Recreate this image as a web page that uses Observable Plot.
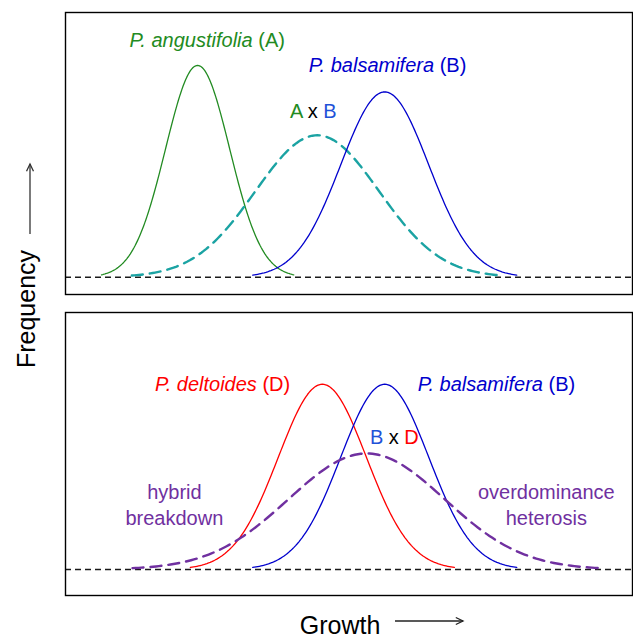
<!DOCTYPE html>
<html>
<head>
<meta charset="utf-8">
<script src="https://cdn.jsdelivr.net/npm/d3@7"></script>
<script src="https://cdn.jsdelivr.net/npm/@observablehq/plot@0.6"></script>
<style>
  html, body { margin: 0; padding: 0; background: #fff; }
  #chart { position: relative; width: 633px; height: 638px; overflow: hidden; font-family: "Liberation Sans", Arial, sans-serif; }
  #chart svg { position: absolute; left: 0; }
  text { white-space: pre; }
</style>
</head>
<body>
<div id="chart"></div>
<script>
// ---- Data ----
const xDomain = [0, 10];                 // growth (arbitrary units)
const topYDomain = [-0.082, 1.25];       // frequency (relative)
const bottomYDomain = [-0.123, 1.214];

// Top panel: P. angustifolia (A), A x B hybrid, P. balsamifera (B)
const topCurveNames = ["A", "AxB", "B"];
const topCurveMeans = [2.33, 4.44, 5.63];
const topCurveSDs   = [0.565, 1.09, 0.776];
const topCurvePeaks = [1.0, 0.67, 0.875];

// Bottom panel: P. deltoides (D), P. balsamifera (B), B x D hybrid
const bottomCurveNames = ["D", "B", "BxD"];
const bottomCurveMeans = [4.53, 5.63, 5.31];
const bottomCurveSDs   = [0.776, 0.776, 1.376];
const bottomCurvePeaks = [0.875, 0.875, 0.548];

// Labels
const topLabelText = ["P. angustifolia (A)", "P. balsamifera (B)", "A x B"];
const topLabelX = [2.50, 5.68, 4.37];
const topLabelY = [1.117, 1.0, 0.782];

const bottomLabelText = ["P. deltoides (D)", "P. balsamifera (B)", "B x D"];
const bottomLabelX = [2.77, 7.60, 5.80];
const bottomLabelY = [0.874, 0.874, 0.623];

const noteText = ["hybrid\nbreakdown", "overdominance\nheterosis"];
const noteX = [1.92, 8.48];
const noteY = [0.312, 0.312];

const xTitle = "Growth";
const yTitle = "Frequency";

// ---- Styles ----
const GREEN = "#228b22", BLUE = "#0000cd", TEAL = "#1ba3a3", RED = "#ff0000", PURPLE = "#7030a0", LBLUE = "#1f52d8";
const curveStyle = {
  A:   {stroke: GREEN,  dashed: false},
  AxB: {stroke: TEAL,   dashed: true},
  B:   {stroke: BLUE,   dashed: false},
  D:   {stroke: RED,    dashed: false},
  BxD: {stroke: PURPLE, dashed: true}
};
const labelParts = {
  "P. angustifolia (A)": [["P. angustifolia", GREEN, true], [" (A)", GREEN, false]],
  "P. balsamifera (B)":  [["P. balsamifera", BLUE, true], [" (B)", BLUE, false]],
  "P. deltoides (D)":    [["P. deltoides", RED, true], [" (D)", RED, false]],
  "A x B": [["A", GREEN, false], [" x ", "#000", false], ["B", LBLUE, false]],
  "B x D": [["B", LBLUE, false], [" x ", "#000", false], ["D", RED, false]]
};
const FONT = "Liberation Sans, Arial, Helvetica, sans-serif";

// Normal curve sampled over mean ± 3 sd from the read parameters
function curvePoints(name, mu, sd, peak) {
  const n = 160, pts = [];
  for (let i = 0; i <= n; i++) {
    const x = mu - 3 * sd + (6 * sd * i) / n;
    const z = (x - mu) / sd;
    pts.push({name, x, y: peak * Math.exp(-0.5 * z * z)});
  }
  return pts;
}

function curveMarks(names, means, sds, peaks) {
  return names.map((nm, i) => {
    const s = curveStyle[nm];
    return Plot.line(curvePoints(nm, means[i], sds[i], peaks[i]), {
      x: "x", y: "y", stroke: s.stroke,
      strokeWidth: s.dashed ? 2.4 : 1.3,
      strokeDasharray: s.dashed ? "11,7" : null,
      curve: "linear"
    });
  });
}

function labelsTable(text, xs, ys) {
  return text.map((t, i) => ({text: t, x: xs[i], y: ys[i]}));
}

function styleLabels(svg) {
  d3.select(svg).selectAll("text").each(function () {
    const parts = labelParts[this.textContent];
    if (!parts) return;
    const sel = d3.select(this);
    sel.text(null);
    parts.forEach(([s, c, it]) => sel.append("tspan")
      .attr("fill", c).attr("font-style", it ? "italic" : "normal").text(s));
  });
}

const baselineStyle = {stroke: "#1a1a1a", strokeWidth: 1.5, strokeDasharray: "6,4"};

// ---- Top panel ----
const topPlot = Plot.plot({
  width: 633, height: 303,
  marginTop: 12, marginRight: 1, marginBottom: 9, marginLeft: 65,
  x: {domain: xDomain, axis: null},
  y: {domain: topYDomain, axis: null},
  marks: [
    Plot.ruleY([0], baselineStyle),
    ...curveMarks(topCurveNames, topCurveMeans, topCurveSDs, topCurvePeaks),
    Plot.text(labelsTable(topLabelText, topLabelX, topLabelY), {
      x: "x", y: "y", text: "text", fill: "black", fontSize: 20, fontFamily: FONT
    }),
    Plot.frame({stroke: "black", strokeWidth: 1.4})
  ]
});
styleLabels(topPlot);

// ---- Bottom panel ----
const bottomPlot = Plot.plot({
  width: 633, height: 335,
  marginTop: 9, marginRight: 1, marginBottom: 43, marginLeft: 65,
  x: {domain: xDomain, axis: null},
  y: {domain: bottomYDomain, axis: null},
  marks: [
    Plot.ruleY([0], baselineStyle),
    ...curveMarks(bottomCurveNames, bottomCurveMeans, bottomCurveSDs, bottomCurvePeaks),
    Plot.text(labelsTable(bottomLabelText, bottomLabelX, bottomLabelY), {
      x: "x", y: "y", text: "text", fill: "black", fontSize: 20, fontFamily: FONT
    }),
    Plot.text(labelsTable(noteText, noteX, noteY), {
      x: "x", y: "y", text: "text", fill: PURPLE, fontSize: 20, fontFamily: FONT, lineHeight: 1.3
    }),
    Plot.text([xTitle], {
      frameAnchor: "bottom", lineAnchor: "middle", dx: -9, dy: 30,
      fill: "black", fontSize: 25, fontFamily: FONT
    }),
    Plot.frame({stroke: "black", strokeWidth: 1.4})
  ]
});
styleLabels(bottomPlot);

const chart = document.getElementById("chart");
topPlot.style.top = "0px";
bottomPlot.style.top = "303px";
chart.appendChild(topPlot);
chart.appendChild(bottomPlot);

// ---- Overlay: y title and axis arrows ----
const ov = d3.select(chart).append("svg")
  .attr("width", 633).attr("height", 638)
  .style("top", "0px").style("pointer-events", "none");

ov.append("text")
  .attr("transform", "translate(35,309) rotate(-90)")
  .attr("text-anchor", "middle")
  .attr("font-family", FONT).attr("font-size", 25).attr("fill", "black")
  .text(yTitle);

function arrow(x1, y1, x2, y2, color) {
  const g = ov.append("g").attr("stroke", color).attr("stroke-width", 1.3).attr("fill", "none");
  g.append("line").attr("x1", x1).attr("y1", y1).attr("x2", x2).attr("y2", y2);
  const ang = Math.atan2(y2 - y1, x2 - x1), L = 8, a = Math.PI / 7;
  g.append("path").attr("d",
    `M${x2 - L * Math.cos(ang - a)},${y2 - L * Math.sin(ang - a)}L${x2},${y2}L${x2 - L * Math.cos(ang + a)},${y2 - L * Math.sin(ang + a)}`);
}
arrow(30, 234, 30, 164, "#333");
arrow(395, 621, 463, 621, "#222");
</script>
</body>
</html>
